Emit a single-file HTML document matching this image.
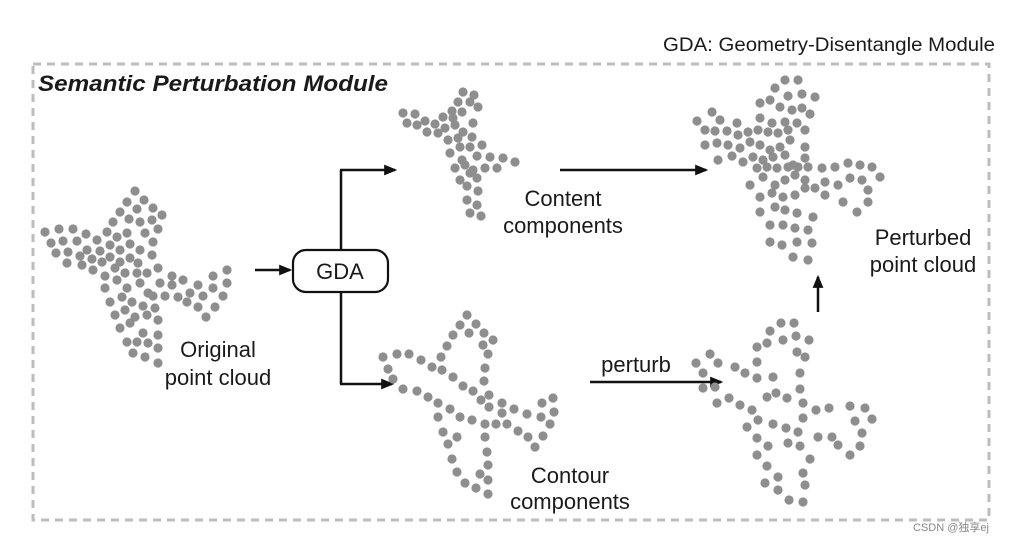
<!DOCTYPE html>
<html><head><meta charset="utf-8"><style>
html,body{margin:0;padding:0;background:#fff;}
svg{display:block;}
text{font-family:"Liberation Sans","Noto Sans CJK SC",sans-serif;fill:#1a1a1a;}
</style></head><body>
<svg width="1017" height="544" viewBox="0 0 1017 544" xmlns="http://www.w3.org/2000/svg">
<defs>
<marker id="b" viewBox="0 0 12 10" markerWidth="13" markerHeight="11" refX="10" refY="5" orient="auto" markerUnits="userSpaceOnUse"><path d="M0,0 L12,5 L0,10 z" fill="#111"/></marker></defs>
<rect x="33" y="64" width="956" height="456" fill="none" stroke="#bdbdbd" stroke-width="3" stroke-dasharray="8,6"/>
<text x="663" y="51" font-size="19.5" textLength="332" lengthAdjust="spacingAndGlyphs">GDA: Geometry-Disentangle Module</text>
<text x="38" y="91" font-size="22.5" font-weight="bold" font-style="italic" textLength="350" lengthAdjust="spacingAndGlyphs">Semantic Perturbation Module</text>
<g stroke="#111" stroke-width="2.5" fill="none">
<line x1="255" y1="270" x2="290" y2="270" marker-end="url(#b)"/>
<line x1="341" y1="250" x2="341" y2="170"/>
<line x1="340" y1="170" x2="395" y2="170" marker-end="url(#b)"/>
<line x1="341" y1="292" x2="341" y2="384"/>
<line x1="340" y1="384" x2="392" y2="384" marker-end="url(#b)"/>
<line x1="560" y1="170" x2="706" y2="170" marker-end="url(#b)"/>
<line x1="590" y1="382" x2="721" y2="382" marker-end="url(#b)"/>
<line x1="818" y1="312" x2="818" y2="277" marker-end="url(#b)"/>
<rect x="293" y="250" width="95" height="42" rx="13" ry="13" stroke-width="2.2"/>
</g>
<text x="340" y="279" font-size="22" text-anchor="middle">GDA</text>
<g font-size="22" text-anchor="middle">
<text x="563" y="206">Content</text><text x="563" y="233">components</text>
<text x="923" y="245">Perturbed</text><text x="923" y="272">point cloud</text>
<text x="218" y="357">Original</text><text x="218" y="385">point cloud</text>
<text x="570" y="483">Contour</text><text x="570" y="509">components</text>
<text x="636" y="372">perturb</text>
</g>
<text x="913" y="531" font-size="11" style="fill:#888">CSDN @独享ej</text>
<g fill="#8e8e8e" id="dots"></g>
</svg>
<script>
var P=[
[135,191],[127,202],[144,200],[120,212],[137,209],[153,208],[162,215],[113,222],[129,219],[140,222],[152,220],[158,229],
[45,232],[59,229],[73,229],[86,234],[51,243],[63,241],[77,241],[97,240],[107,232],[117,237],[127,233],[145,233],[56,253],[68,252],[80,256],[87,250],[100,251],[110,245],[120,250],[130,244],[140,250],[153,242],[67,263],[82,265],[92,259],[102,262],[110,257],[120,262],[130,258],[138,263],[152,255],
[93,270],[105,276],[115,268],[125,273],[137,273],[147,273],[158,268],[172,276],[183,280],[198,285],[213,276],[227,270],
[105,288],[117,280],[127,288],[140,283],[148,293],[160,283],[172,285],[178,297],[190,293],[203,296],[213,288],[227,283],[165,296],[153,296],
[110,302],[122,297],[132,302],[143,306],[155,308],[187,302],[198,307],[215,307],[223,296],
[115,315],[125,310],[135,317],[147,315],[158,320],[206,317],[120,328],[130,323],[143,333],[158,335],[127,342],[137,342],[148,343],[158,348],[133,353],[145,357],[158,363],
[463,92],[474,95],[458,102],[470,102],[478,107],[452,111],[462,112],[403,113],[415,114],[443,117],[453,118],[473,123],[407,123],[417,125],[425,121],[435,124],[445,128],[455,125],[463,132],[427,132],[438,133],[448,140],[458,138],[472,137],[460,147],[470,147],[482,145],[450,153],[462,160],[477,156],[490,157],[503,158],[515,162],[455,168],[465,165],[473,170],[485,168],[497,168],[460,180],[470,173],[477,178],[467,186],[478,191],[467,200],[477,205],[470,213],[481,216],
[785,80],[798,80],[775,88],[788,96],[802,94],[815,97],[760,103],[770,100],[780,107],[792,110],[802,108],[810,114],[712,112],[720,120],[697,121],[737,123],[760,118],[772,123],[785,122],[797,123],[705,130],[715,131],[727,131],[738,135],[748,132],[758,130],[768,132],[778,133],[788,130],[805,130],[705,145],[717,143],[728,145],[740,148],[750,142],[760,145],[770,150],[780,147],[790,140],[805,147],[718,160],[732,156],[743,162],[753,157],[763,160],[773,157],[785,155],[793,165],[805,158],[757,168],[767,167],[777,168],[788,167],[798,167],[808,167],[822,168],[835,167],[848,163],[860,165],[872,167],[880,177],[750,185],[763,177],[775,185],[785,180],[795,175],[805,180],[815,188],[825,182],[838,185],[850,178],[862,180],[868,190],[760,197],[772,193],[783,197],[795,195],[805,188],[825,195],[843,202],[857,212],[868,202],[760,212],[775,207],[785,210],[797,213],[813,217],[770,225],[783,225],[795,228],[808,230],[770,242],[782,245],[797,242],[812,243],[793,257],[808,260],
[467,315],[460,325],[476,324],[453,335],[469,333],[484,333],[493,340],[447,346],[483,345],[383,357],[397,354],[409,354],[421,360],[441,357],[488,354],[388,369],[432,367],[442,370],[485,368],[393,379],[453,377],[484,381],[403,389],[417,391],[463,386],[473,391],[428,397],[481,400],[489,395],[438,403],[450,409],[489,407],[502,403],[514,409],[527,414],[542,403],[553,398],[438,417],[460,417],[472,420],[485,424],[496,424],[507,424],[502,413],[541,417],[554,412],[550,424],[443,432],[457,437],[485,437],[518,431],[528,437],[543,436],[448,444],[535,447],[487,452],[452,459],[488,465],[457,472],[480,474],[488,480],[465,483],[476,488],[488,494],
[781,323],[794,323],[770,331],[783,340],[796,336],[809,340],[757,347],[767,343],[710,354],[797,352],[805,357],[696,363],[718,363],[735,367],[757,362],[703,373],[745,373],[757,378],[773,377],[800,373],[703,388],[715,387],[767,397],[776,393],[787,398],[800,389],[717,403],[729,398],[740,405],[752,410],[803,403],[816,410],[829,408],[850,406],[865,408],[758,420],[773,424],[786,428],[803,418],[855,421],[872,419],[747,427],[798,432],[818,437],[832,437],[838,445],[862,433],[757,438],[768,446],[788,443],[800,446],[860,446],[850,455],[757,455],[810,459],[767,466],[803,473],[778,477],[765,483],[778,490],[805,485],[789,500],[803,502]];
var g=document.getElementById('dots'),s='';
P.forEach(function(p){s+='<circle cx="'+p[0]+'" cy="'+p[1]+'" r="4.6"/>';});
g.innerHTML=s;
</script>
</body></html>
